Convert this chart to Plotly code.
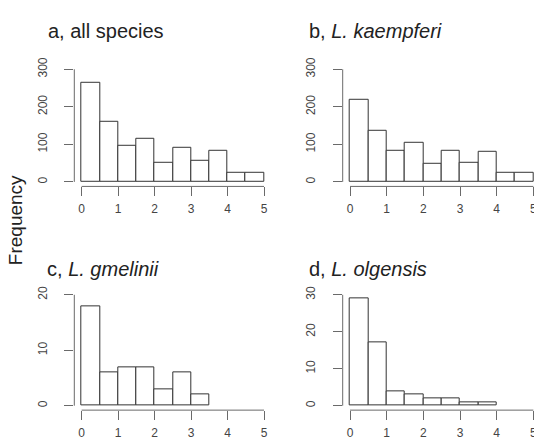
import plotly.graph_objects as go

# ---- data ----
bin_edges = [0, 0.5, 1, 1.5, 2, 2.5, 3, 3.5, 4, 4.5, 5]
counts_all = [265, 161, 96, 116, 52, 90, 56, 82, 25, 25]
counts_kaempferi = [218, 135, 84, 105, 48, 84, 52, 79, 25, 25]
counts_gmelinii = [18, 6, 7, 7, 3, 6, 2, 0, 0, 0]
counts_olgensis = [29, 17, 4, 3, 2, 2, 1, 1, 0, 0]

x_ticks = [0, 1, 2, 3, 4, 5]
y_ticks_a = [0, 100, 200, 300]
y_ticks_b = [0, 100, 200, 300]
y_ticks_c = [0, 10, 20]
y_ticks_d = [0, 10, 20, 30]

titles = ["a, all species", "b, <i>L. kaempferi</i>",
          "c, <i>L. gmelinii</i>", "d, <i>L. olgensis</i>"]
y_label = "Frequency"

# page body has an 8px default margin -> compensate
OFF = 8
PW, PH = 542, 444
W, H = PW - OFF, PH - OFF
FONT = "Liberation Sans, Arial, sans-serif"
BAR_LINE = "#333333"
AXIS_COL = "#6a6a6a"
TEXT_COL = "#444444"

# panel plot regions in page pixels: (left, right, top, bottom)
panels = [
    (74.3, 271.3, 57.7, 181.6),
    (342.7, 540.7, 57.7, 181.6),
    (74.3, 271.3, 287.5, 409.5),
    (342.7, 540.7, 287.5, 409.5),
]
# title positions (left x px, vertical middle px)
title_pos = [(46.0, 23.0), (306.5, 23.0), (44.5, 265.5), (306.5, 265.5)]

series = [counts_all, counts_kaempferi, counts_gmelinii, counts_olgensis]
yticks = [y_ticks_a, y_ticks_b, y_ticks_c, y_ticks_d]


def px_x(v):
    return (v - OFF) / W


def px_y(v):
    return 1 - (v - OFF) / H


mids = [(bin_edges[i] + bin_edges[i + 1]) / 2 for i in range(len(bin_edges) - 1)]
widths = [bin_edges[i + 1] - bin_edges[i] for i in range(len(bin_edges) - 1)]

fig = go.Figure()
shapes = []
annotations = []

for k, (counts, yt) in enumerate(zip(series, yticks)):
    n = k + 1
    xa = "x" if n == 1 else f"x{n}"
    ya = "y" if n == 1 else f"y{n}"
    xs = [m for m, c in zip(mids, counts) if c > 0]
    ws = [w for w, c in zip(widths, counts) if c > 0]
    cs = [c for c in counts if c > 0]
    fig.add_trace(go.Bar(
        x=xs, y=cs, width=ws, xaxis=xa, yaxis=ya,
        marker=dict(color="white", line=dict(color=BAR_LINE, width=1)),
        showlegend=False, hoverinfo="x+y",
    ))
    left, right, top, bottom = panels[k]
    xr = [x_ticks[0] - 0.04 * (x_ticks[-1] - x_ticks[0]),
          x_ticks[-1] + 0.04 * (x_ticks[-1] - x_ticks[0])]
    yr = [yt[0] - 0.04 * (yt[-1] - yt[0]), yt[-1] + 0.04 * (yt[-1] - yt[0])]
    axis_common = dict(showgrid=False, zeroline=False, showline=False,
                       ticks="outside", ticklen=9, tickwidth=1,
                       tickcolor=AXIS_COL, fixedrange=True,
                       tickfont=dict(family=FONT, size=12, color=TEXT_COL))
    fig.update_layout(**{
        ("xaxis" if n == 1 else f"xaxis{n}"): dict(
            domain=[px_x(left), px_x(right)], range=xr, anchor=ya,
            tickvals=x_ticks, ticktext=[str(t) for t in x_ticks],
            ticklabelstandoff=2, **axis_common),
        ("yaxis" if n == 1 else f"yaxis{n}"): dict(
            domain=[px_y(bottom), px_y(top)], range=yr, anchor=xa,
            tickvals=yt, ticktext=[str(t) for t in yt], tickangle=-90,
            ticklabelstandoff=13, **axis_common),
    })
    xref_d = xa + " domain"
    yref_d = ya + " domain"
    shapes.append(dict(type="line", xref=xa, yref=yref_d,
                       x0=x_ticks[0], x1=x_ticks[-1], y0=0, y1=0,
                       line=dict(color=AXIS_COL, width=1)))
    shapes.append(dict(type="line", xref=xref_d, yref=ya,
                       x0=0, x1=0, y0=yt[0], y1=yt[-1],
                       line=dict(color=AXIS_COL, width=1)))
    tx, ty = title_pos[k]
    annotations.append(dict(text=titles[k], xref="paper", yref="paper",
                            x=px_x(tx), y=px_y(ty), xanchor="left",
                            yanchor="middle", showarrow=False,
                            font=dict(family=FONT, size=20, color="#222222")))

annotations.append(dict(text=y_label, xref="paper", yref="paper",
                        x=px_x(15.5), y=px_y(216.5), xanchor="center",
                        yanchor="middle", textangle=-90, showarrow=False,
                        font=dict(family=FONT, size=19, color="#222222")))

fig.update_layout(width=W, height=H, margin=dict(l=0, r=0, t=0, b=0),
                  paper_bgcolor="white", plot_bgcolor="white",
                  shapes=shapes, annotations=annotations, bargap=0)

fig.write_html("out.html")
